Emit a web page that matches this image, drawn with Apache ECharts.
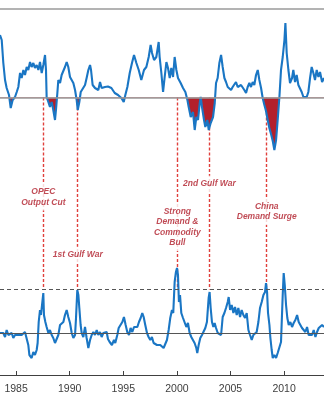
<!DOCTYPE html>
<html><head><meta charset="utf-8">
<script src="https://cdn.jsdelivr.net/npm/echarts@6/dist/echarts.min.js"></script>
<style>html,body{margin:0;padding:0;background:#fff}#c{width:324px;height:400px}</style>
</head><body><div id="c"></div>
<script>
// ---------- DATA ----------
const topYears = [1983.50,1983.66,1983.81,1983.97,1984.12,1984.34,1984.50,1984.68,1984.90,1985.06,1985.21,1985.37,1985.52,1985.68,1985.83,1985.99,1986.14,1986.30,1986.45,1986.61,1986.76,1986.92,1987.08,1987.23,1987.39,1987.54,1987.70,1987.79,1987.85,1988.01,1988.16,1988.32,1988.47,1988.63,1988.72,1988.85,1988.94,1989.10,1989.25,1989.41,1989.56,1989.72,1989.87,1990.03,1990.19,1990.34,1990.50,1990.65,1990.75,1990.90,1991.03,1991.21,1991.43,1991.58,1991.74,1991.90,1991.99,1992.14,1992.36,1992.67,1992.83,1992.98,1993.29,1993.57,1993.89,1994.04,1994.20,1994.51,1994.82,1995.04,1995.19,1995.38,1995.60,1995.81,1996.00,1996.22,1996.44,1996.68,1996.93,1997.15,1997.37,1997.55,1997.68,1997.87,1998.08,1998.30,1998.39,1998.55,1998.71,1998.86,1999.02,1999.17,1999.33,1999.48,1999.64,1999.79,1999.95,2000.10,2000.35,2000.57,2000.79,2000.98,2001.10,2001.29,2001.50,2001.66,2001.81,2001.97,2002.13,2002.22,2002.34,2002.53,2002.65,2002.84,2002.97,2003.15,2003.37,2003.53,2003.65,2003.80,2003.96,2004.12,2004.27,2004.43,2004.58,2004.74,2004.89,2005.05,2005.20,2005.36,2005.51,2005.67,2005.83,2005.98,2006.14,2006.29,2006.45,2006.60,2006.76,2006.91,2007.07,2007.22,2007.38,2007.54,2007.69,2007.85,2008.00,2008.16,2008.31,2008.47,2008.62,2008.78,2008.94,2009.09,2009.25,2009.40,2009.56,2009.71,2009.87,2010.03,2010.12,2010.24,2010.40,2010.55,2010.74,2010.86,2011.02,2011.17,2011.33,2011.49,2011.64,2011.80,2011.95,2012.11,2012.26,2012.42,2012.57,2012.73,2012.88,2013.04,2013.20,2013.35,2013.54,2013.72];
const topValues = [6.25,5.75,3.45,1.75,0.95,0.25,-1.05,-0.25,0.05,0.55,1.05,2.45,1.95,2.75,2.25,3.05,2.75,3.55,3.05,3.45,2.95,3.25,2.75,3.55,2.45,3.25,4.25,2.75,0.05,-0.45,-0.95,-0.45,-1.25,-2.25,-1.25,0.45,1.75,1.45,2.25,2.05,3.05,3.55,3.05,2.05,2.25,1.45,0.75,-0.25,-1.25,-0.45,0.55,0.45,1.25,1.95,2.75,3.25,2.75,1.25,0.95,0.75,1.55,0.95,1.05,1.10,0.95,0.75,0.45,0.25,-0.05,-0.45,0.25,1.05,2.45,3.45,4.25,3.45,2.75,1.75,2.75,3.05,4.05,5.25,4.45,3.75,4.05,5.55,4.05,2.45,0.55,2.05,3.55,2.95,1.95,2.95,2.05,4.05,2.75,1.95,1.45,0.95,0.55,-0.25,-0.95,-1.95,-1.45,-3.25,-1.95,-2.25,-0.55,0.05,-0.95,-2.25,-2.95,-2.25,-3.25,-2.55,-1.95,-0.55,1.45,1.95,3.45,4.25,3.05,1.95,1.55,1.05,1.25,0.75,1.05,1.25,1.55,1.05,0.95,1.25,1.45,0.75,0.45,1.05,1.45,1.05,1.55,1.25,2.25,2.75,1.75,0.95,-0.05,-0.75,-1.35,-2.25,-3.05,-3.65,-4.35,-5.25,-4.25,-2.25,0.05,2.75,4.05,5.75,7.45,4.45,2.75,1.45,1.95,2.75,1.55,2.25,1.25,1.05,0.55,0.05,0.25,0.05,0.55,1.95,3.05,2.45,1.75,2.75,2.05,2.55,1.55,1.95];

const botYears = [1983.50,1983.66,1983.81,1983.97,1984.12,1984.28,1984.43,1984.59,1984.74,1984.90,1985.05,1985.21,1985.37,1985.52,1985.68,1985.83,1985.99,1986.14,1986.24,1986.36,1986.45,1986.61,1986.76,1986.92,1987.01,1987.11,1987.23,1987.32,1987.42,1987.54,1987.60,1987.73,1987.85,1988.01,1988.16,1988.32,1988.47,1988.63,1988.79,1988.94,1989.10,1989.25,1989.41,1989.56,1989.72,1989.87,1990.03,1990.19,1990.34,1990.50,1990.59,1990.71,1990.81,1990.90,1991.02,1991.12,1991.27,1991.43,1991.58,1991.74,1991.90,1992.05,1992.21,1992.36,1992.52,1992.67,1992.83,1992.98,1993.14,1993.29,1993.45,1993.57,1993.73,1993.94,1994.13,1994.25,1994.44,1994.57,1994.75,1994.91,1995.06,1995.22,1995.37,1995.53,1995.68,1995.84,1996.00,1996.15,1996.31,1996.46,1996.62,1996.77,1996.90,1997.05,1997.21,1997.36,1997.52,1997.67,1997.83,1997.99,1998.14,1998.30,1998.45,1998.61,1998.76,1998.92,1999.07,1999.23,1999.38,1999.54,1999.66,1999.79,1999.91,2000.01,2000.10,2000.19,2000.29,2000.41,2000.57,2000.72,2000.88,2001.03,2001.19,2001.34,2001.50,2001.65,2001.81,2001.90,2002.03,2002.18,2002.34,2002.49,2002.65,2002.80,2002.96,2003.05,2003.15,2003.27,2003.40,2003.52,2003.65,2003.81,2003.96,2004.12,2004.27,2004.43,2004.58,2004.74,2004.83,2004.96,2005.11,2005.27,2005.42,2005.58,2005.73,2005.89,2006.04,2006.20,2006.36,2006.51,2006.67,2006.82,2006.98,2007.13,2007.29,2007.44,2007.60,2007.75,2007.91,2008.07,2008.22,2008.31,2008.41,2008.50,2008.63,2008.72,2008.84,2008.94,2009.09,2009.25,2009.40,2009.56,2009.71,2009.87,2009.96,2010.06,2010.18,2010.30,2010.43,2010.58,2010.74,2010.89,2011.05,2011.21,2011.36,2011.52,2011.67,2011.83,2011.98,2012.14,2012.29,2012.45,2012.60,2012.76,2012.92,2013.07,2013.23,2013.38,2013.54,2013.72];
const botValues = [0,-0.2,0,-0.4,0.3,-0.2,-0.4,0,-0.5,-0.2,-0.4,-0.2,-0.4,-0.2,0,0.1,0,-1.2,-2.2,-2.0,-2.5,-1.9,-2.2,-1.7,-1.0,1.1,2.3,1.8,2.8,4.0,1.8,1.1,0.6,0,0.3,-0.2,-0.5,-1.0,-0.9,-0.2,0.8,1.0,1.1,1.8,2.3,1.6,1.0,0,-0.5,-0.2,1.5,4.3,3.8,2.5,0.8,0,-0.4,0.6,-0.5,-1.5,-0.7,-0.2,0.1,-0.2,0.3,-0.2,0.1,-0.4,0,-0.2,0.1,-0.6,-0.9,-1.2,-0.7,-1.0,-0.2,0.5,0.3,1.1,1.6,0.8,0.1,-0.2,0.5,0.1,0.6,0.8,0.6,1.1,1.5,2.0,1.6,0.8,0,-0.4,-0.7,-0.4,-1.0,-0.9,-1.2,-1.0,-1.2,-1.0,-1.5,-1.7,-0.7,0.3,1.5,2.3,2.0,5.1,6.1,6.5,5.8,3.1,3.8,2.0,1.5,1.6,0.6,1.0,0,-0.4,-0.5,-1.0,-1.5,-2.0,-1.2,-0.5,-0.2,-0.4,0.5,1.1,3.5,4.1,2.5,1.1,0.6,1.0,0.5,0,0.1,-0.2,1.6,2.0,2.5,3.1,3.6,2.3,2.8,2.0,2.6,1.8,2.5,1.6,2.3,1.8,1.5,2.0,0.3,-0.2,-0.7,-0.2,-0.4,0.1,1.1,2.5,3.1,3.8,4.1,5.0,4.1,2.0,0.8,-0.5,-1.7,-2.5,-2.2,-2.5,-2.0,-1.9,-0.9,3.8,6.0,4.8,2.8,1.5,0.8,1.1,0.6,1.0,1.3,1.8,1.1,1.0,0.5,0.6,0.1,0.6,-0.2,0,-0.2,0.3,-0.4,0.1,0.5,0.6,0.8,0.6];

const eventYears = [1987.54, 1990.75, 2000.04, 2003.03, 2008.38];
const eventLabels = ['OPEC\nOutput Cut', '1st Gulf War', 'Strong\nDemand &\nCommodity\nBull', '2nd Gulf War', 'China\nDemand Surge'];
const tickYears = [1985, 1990, 1995, 2000, 2005, 2010];
const topRefLevel = 0;
const botRefLevel = 0;
const botThresholdLevel = 4.35;

// ---------- LAYOUT / STYLE ----------
const X_MIN = 1983.5, X_MAX = 2013.72;
const TOP_MIN = -6.15, TOP_MAX = 8.85;
const BOT_MIN = -4.2, BOT_MAX = 17.4;
const labelLevels = [13.6, 7.8, 10.6, 14.9, 12.15];
const BLUE = '#1a76c4', RED = '#b3202b', ANN = '#b01e2a', ANN_LINE = '#e0403c';

const topData = topYears.map((y, i) => [y, topValues[i]]);
const botData = botYears.map((y, i) => [y, botValues[i]]);

const eventLineStyle = {color: ANN_LINE, type: [3, 2], width: 1.4, opacity: 1};

const chart = echarts.init(document.getElementById('c'), null, {renderer: 'canvas'});
chart.setOption({
  animation: false,
  grid: [
    {left: 0, right: 0, top: 9, height: 150},
    {left: 0, right: 0, top: 159, height: 216}
  ],
  xAxis: [
    {gridIndex: 0, type: 'value', min: X_MIN, max: X_MAX, position: 'top',
     axisLine: {show: true, onZero: false, lineStyle: {color: '#9a9a9a', width: 1.5}},
     axisTick: {show: false}, axisLabel: {show: false}, splitLine: {show: false}},
    {gridIndex: 1, type: 'value', min: X_MIN, max: X_MAX, position: 'bottom',
     axisLine: {show: true, onZero: false, lineStyle: {color: '#404040', width: 1}},
     axisTick: {show: true, inside: true, length: 4, customValues: tickYears, lineStyle: {color: '#404040'}},
     axisLabel: {customValues: tickYears, formatter: v => String(Math.round(v)), color: '#404040',
                 fontSize: 10.5, margin: 9, fontFamily: 'Liberation Sans, Arial, sans-serif'},
     splitLine: {show: false}}
  ],
  yAxis: [
    {gridIndex: 0, type: 'value', min: TOP_MIN, max: TOP_MAX, show: false, splitLine: {show: false}},
    {gridIndex: 1, type: 'value', min: BOT_MIN, max: BOT_MAX, show: false, splitLine: {show: false}}
  ],
  series: [
    {id: 'topFill', type: 'line', xAxisIndex: 0, yAxisIndex: 0, data: topData, z: 2, symbol: 'none', silent: true,
     lineStyle: {opacity: 0, width: 0}, itemStyle: {color: ANN_LINE}, areaStyle: {opacity: 1, color: 'rgba(0,0,0,0)'},
     markLine: {z: 1, symbol: ['none', 'none'], silent: true, label: {show: false}, lineStyle: eventLineStyle,
       data: eventYears.map(yr => [{coord: [yr, topRefLevel], lineStyle: eventLineStyle}, {coord: [yr, TOP_MIN]}])}},
    {type: 'line', xAxisIndex: 0, yAxisIndex: 0, data: topData, z: 3, symbol: 'none',
     lineStyle: {color: BLUE, width: 2.1}, itemStyle: {color: BLUE},
     markLine: {symbol: ['none', 'none'], silent: true, label: {show: false},
       lineStyle: {color: '#9a9a9a', type: 'solid', width: 1.5},
       data: [{yAxis: topRefLevel}]}},
    {type: 'line', xAxisIndex: 1, yAxisIndex: 1, data: botData, z: 2, symbol: 'none', silent: true,
     lineStyle: {opacity: 0, width: 0}, itemStyle: {color: ANN_LINE},
     markLine: {z: 1, symbol: ['none', 'none'], silent: true, label: {show: false}, lineStyle: eventLineStyle,
       data: eventYears.map(yr => [{coord: [yr, BOT_MAX], lineStyle: eventLineStyle}, {coord: [yr, botThresholdLevel]}])}},
    {type: 'line', xAxisIndex: 1, yAxisIndex: 1, data: botData, z: 3, symbol: 'none',
     lineStyle: {color: BLUE, width: 2.1}, itemStyle: {color: BLUE},
     markLine: {symbol: ['none', 'none'], silent: true, label: {show: false},
       data: [
         {yAxis: botRefLevel, lineStyle: {color: '#555', type: 'solid', width: 1}},
         {yAxis: botThresholdLevel, lineStyle: {color: '#555', type: [4, 3], width: 1}}
       ]}},
    {type: 'scatter', xAxisIndex: 1, yAxisIndex: 1, z: 10, symbolSize: 1, silent: true,
     itemStyle: {color: 'rgba(0,0,0,0)'},
     data: eventYears.map((yr, i) => [yr, labelLevels[i]]),
     label: {show: true, position: 'inside', formatter: p => eventLabels[p.dataIndex],
       color: ANN, fontSize: 8.5, fontWeight: 'bold', fontStyle: 'italic', lineHeight: 10.5,
       fontFamily: 'Liberation Sans, Arial, sans-serif', align: 'center', verticalAlign: 'middle',
       backgroundColor: '#fff', padding: [3, 1]}}
  ]
});

// Red fill below the reference level: a global vertical gradient split at the
// pixel position of the reference level, obtained from the library's y scale.
const y0 = chart.convertToPixel({yAxisIndex: 0}, topRefLevel);
chart.setOption({
  series: [{
    id: 'topFill',
    areaStyle: {opacity: 1, color: new echarts.graphic.LinearGradient(0, y0 - 0.5, 0, y0 + 0.5, [
      {offset: 0, color: 'rgba(179,32,43,0)'},
      {offset: 0.5, color: 'rgba(179,32,43,0)'},
      {offset: 0.5, color: RED},
      {offset: 1, color: RED}
    ], true)}
  }]
});
</script>
</body></html>
